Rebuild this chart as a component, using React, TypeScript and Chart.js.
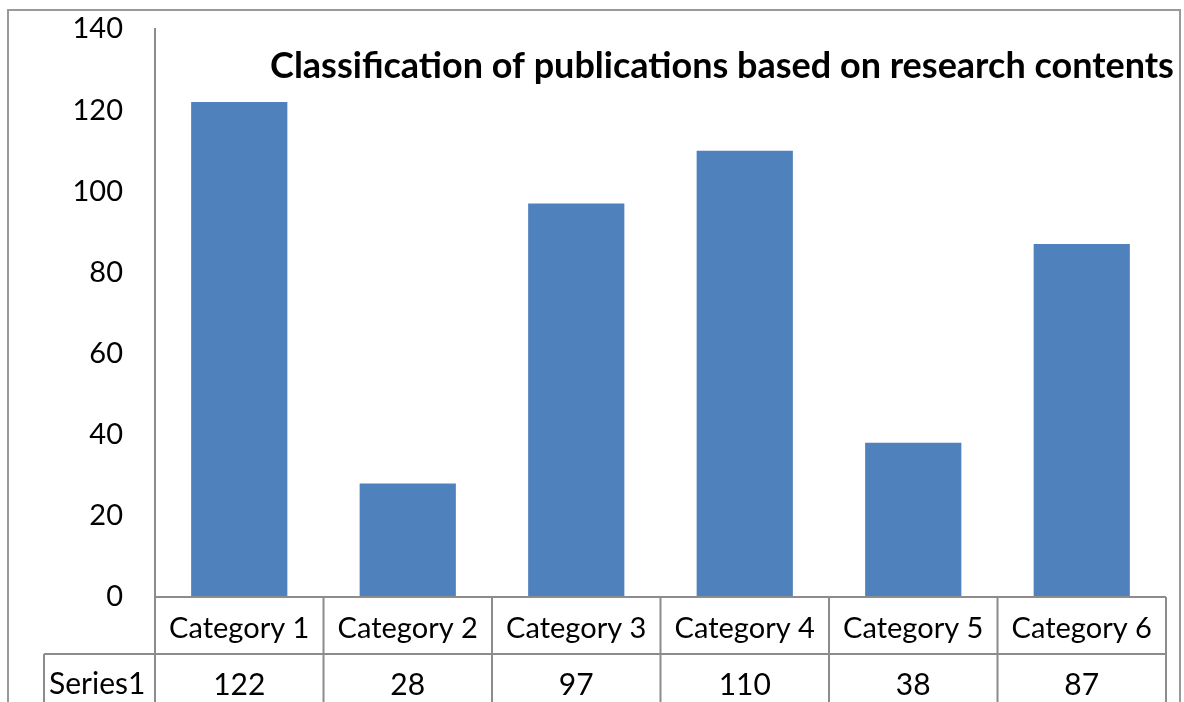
import React, { useEffect, useRef } from "react";
import { Chart, registerables } from "chart.js";

Chart.register(...registerables);

const categories = ["Category 1", "Category 2", "Category 3", "Category 4", "Category 5", "Category 6"];
const seriesName = "Series1";
const values = [122, 28, 97, 110, 38, 87];
const titleText = "Classification of publications based on research contents";
const yMin = 0;
const yMax = 140;
const yStep = 20;

const FONT = "Lato, 'Noto Sans', sans-serif";
const LINE = "#8c8c8c";

const tablePlugin = {
  id: "excelTable",
  afterDraw(chart: any) {
    const { ctx, chartArea: ca, scales } = chart;
    const x = scales.x;
    const n = categories.length;
    const colW = (ca.right - ca.left) / n;
    const row1Top = ca.bottom;
    const row1Bot = ca.bottom + 57;
    const row2Bot = chart.height + 5;
    const labelLeft = 44;

    ctx.save();
    // outer border
    ctx.strokeStyle = "#999999";
    ctx.lineWidth = 2;
    ctx.strokeRect(8, 10, chart.width - 12, chart.height + 20);

    // table lines
    ctx.strokeStyle = LINE;
    ctx.lineWidth = 2;
    ctx.beginPath();
    ctx.moveTo(ca.left, row1Top);
    ctx.lineTo(ca.right, row1Top);
    ctx.moveTo(labelLeft, row1Bot);
    ctx.lineTo(ca.right, row1Bot);
    ctx.moveTo(labelLeft, row1Bot);
    ctx.lineTo(labelLeft, row2Bot);
    for (let i = 0; i <= n; i++) {
      const bx = i < n ? x.getPixelForValue(i) - colW / 2 : x.getPixelForValue(n - 1) + colW / 2;
      ctx.moveTo(bx, row1Top);
      ctx.lineTo(bx, row2Bot);
    }
    ctx.stroke();

    // texts
    ctx.fillStyle = "#000000";
    ctx.textBaseline = "middle";
    ctx.textAlign = "center";
    ctx.font = `29px ${FONT}`;
    for (let i = 0; i < n; i++) {
      const cx = x.getPixelForValue(i);
      ctx.fillText(categories[i], cx, (row1Top + row1Bot) / 2 + 3);
    }
    ctx.font = `30px ${FONT}`;
    for (let i = 0; i < n; i++) {
      const cx = x.getPixelForValue(i);
      ctx.fillText(String(values[i]), cx, row1Bot + 31);
    }
    ctx.textAlign = "left";
    ctx.fillText(seriesName, labelLeft + 5, row1Bot + 30);

    // title
    ctx.font = `bold 36px ${FONT}`;
    ctx.textAlign = "center";
    ctx.fillText(titleText, 722, 66);
    ctx.restore();
  },
};

export default function App() {
  const ref = useRef<HTMLCanvasElement | null>(null);
  useEffect(() => {
    if (!ref.current) return;
    const chart = new Chart(ref.current, {
      type: "bar",
      data: {
        labels: categories,
        datasets: [
          {
            label: seriesName,
            data: values,
            backgroundColor: "#4f81bd",
            borderWidth: 0,
            categoryPercentage: 1,
            barPercentage: 0.571,
          },
        ],
      },
      options: {
        animation: false,
        responsive: false,
        maintainAspectRatio: false,
        layout: { padding: { left: 8, right: 18, top: 29, bottom: 105 } },
        plugins: { legend: { display: false }, title: { display: false }, tooltip: { enabled: false } },
        scales: {
          x: { display: false, offset: true },
          y: {
            min: yMin,
            max: yMax,
            ticks: { stepSize: yStep, padding: 32, color: "#000", font: { family: FONT, size: 29 } },
            grid: { display: false, drawTicks: false },
            border: { display: true, color: LINE, width: 2 },
            afterFit: (s: any) => {
              s.width = 147;
              s.paddingTop = 0;
              s.paddingBottom = 0;
            },
          },
        },
      },
      plugins: [tablePlugin],
    });
    return () => chart.destroy();
  }, []);
  return (
    <div style={{ position: "fixed", left: 0, top: 0, width: 1184, height: 702, background: "#fff" }}>
      <canvas ref={ref} width={1184} height={702} />
    </div>
  );
}
